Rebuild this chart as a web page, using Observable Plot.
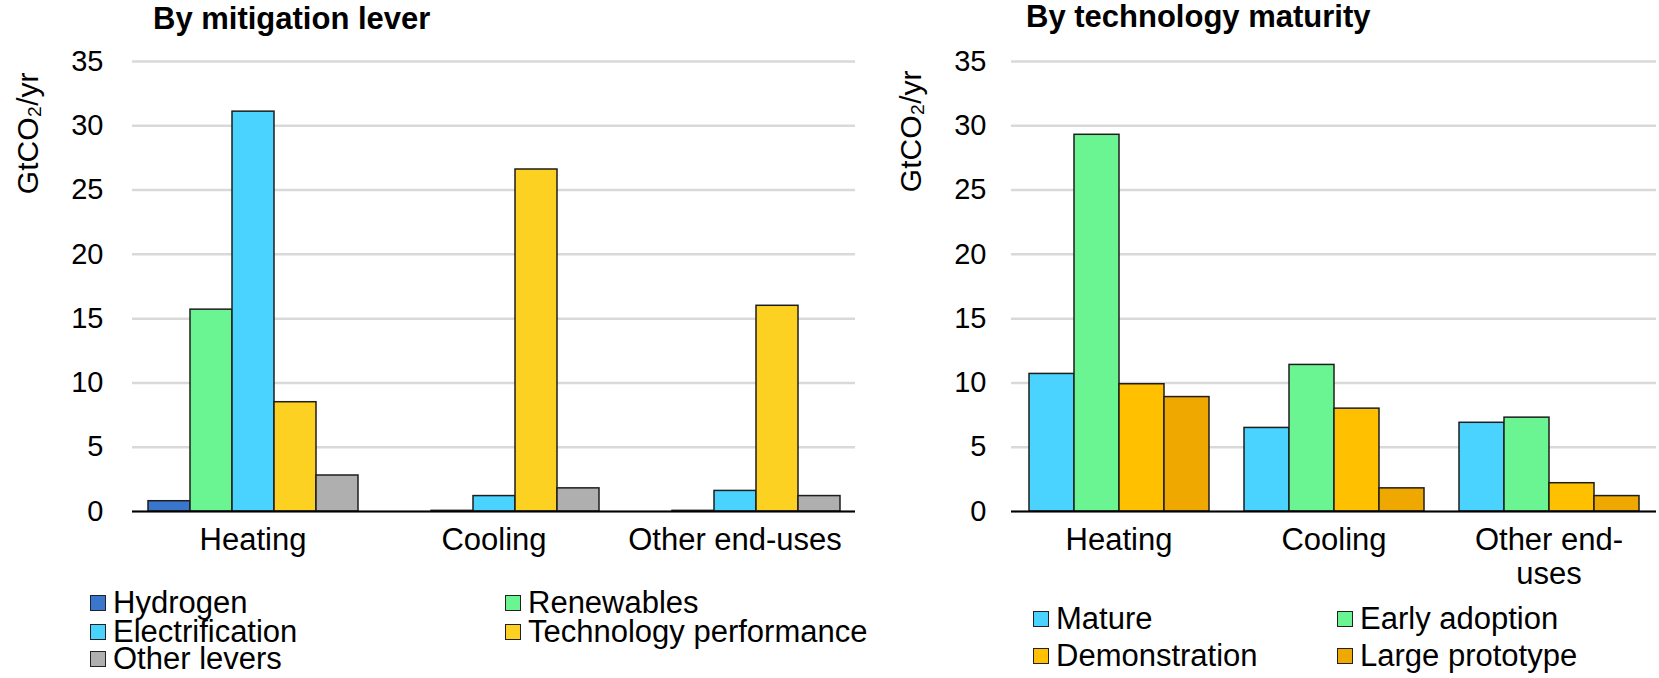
<!DOCTYPE html>
<html><head><meta charset="utf-8">
<script src="https://cdn.jsdelivr.net/npm/d3@7"></script>
<script src="https://cdn.jsdelivr.net/npm/@observablehq/plot@0.6"></script>
<style>
body{margin:0;background:#fff;font-family:"Liberation Sans",Arial,sans-serif;color:#000;}
#root{position:relative;width:1659px;height:678px;overflow:hidden;background:#fff;}
.title{position:absolute;font-weight:bold;font-size:31px;line-height:30px;white-space:nowrap;}
.chart{position:absolute;top:40px;}
.leg{position:absolute;display:flex;align-items:center;height:24px;font-size:31px;line-height:24px;white-space:nowrap;}
.sw{width:16px;height:16px;box-sizing:border-box;border:1.5px solid #222;margin-right:7px;flex:none;}
</style></head><body><div id="root"></div>
<script>
// ---- data ----
const categories = ["Heating", "Cooling", "Other end-uses"];
const leftTickLabels = ["Heating", "Cooling", "Other end-uses"];
const rightTickLabels = ["Heating", "Cooling", "Other end-\nuses"];
const yTicks = [0, 5, 10, 15, 20, 25, 30, 35];
const yLabel = "GtCO₂/yr";

const leverSeries = ["Hydrogen", "Renewables", "Electrification", "Technology performance", "Other levers"];
const leverColors = ["#3A76CC", "#6BF592", "#4AD3FF", "#FDD122", "#AFAFAF"];
const hydrogenValues = [0.8, 0, 0];
const renewablesValues = [15.7, 0.05, 0.05];
const electrificationValues = [31.1, 1.2, 1.6];
const techPerformanceValues = [8.5, 26.6, 16.0];
const otherLeversValues = [2.8, 1.8, 1.2];

const maturitySeries = ["Mature", "Early adoption", "Demonstration", "Large prototype"];
const maturityColors = ["#4AD3FF", "#6BF592", "#FFC000", "#EFA800"];
const matureValues = [10.7, 6.5, 6.9];
const earlyAdoptionValues = [29.3, 11.4, 7.3];
const demonstrationValues = [9.9, 8.0, 2.2];
const largePrototypeValues = [8.9, 1.8, 1.2];

const FONT = '"Liberation Sans", Arial, sans-serif';

function toRows(series, valueArrays) {
  const rows = [];
  categories.forEach((c, ci) => series.forEach((s, si) => rows.push({category: c, series: s, value: valueArrays[si][ci]})));
  return rows;
}

const leverRows = toRows(leverSeries, [hydrogenValues, renewablesValues, electrificationValues, techPerformanceValues, otherLeversValues]);
const maturityRows = toRows(maturitySeries, [matureValues, earlyAdoptionValues, demonstrationValues, largePrototypeValues]);

function chart({data, series, colors, width, marginLeft, marginRight, padOuter, tickLabels, labelDx, labelDy, tickPadding}) {
  return Plot.plot({
    width, height: 560, marginTop: 21, marginBottom: 89, marginLeft, marginRight,
    style: {fontFamily: FONT, fontSize: "29px", color: "#000", background: "transparent", overflow: "visible"},
    fx: {domain: categories, paddingInner: 0, paddingOuter: 0, axis: null},
    x: {domain: series, paddingInner: 0, paddingOuter: padOuter, axis: null},
    y: {domain: [0, 35], axis: null},
    color: {domain: series, range: colors},
    marks: [
      Plot.gridY(yTicks, {stroke: "#d9d9d9", strokeOpacity: 1, strokeWidth: 2.5}),
      Plot.barY(data, {fx: "category", x: "series", y: "value", fill: "series", stroke: "#1e1e1e", strokeWidth: 1.5}),
      Plot.ruleY([0], {stroke: "#000", strokeWidth: 2}),
      Plot.axisY(yTicks, {tickSize: 0, tickPadding, fontSize: 29, fill: "#000", label: null}),
      Plot.text([yLabel], {fx: () => categories[0], text: d => d, frameAnchor: "top-left", rotate: -90,
        textAnchor: "end", lineAnchor: "top", dx: labelDx, dy: labelDy, fontSize: 30, fill: "#000"}),
      Plot.axisFx({anchor: "bottom", tickSize: 0, tickPadding: 14, fontSize: 31, lineHeight: 1.1, fill: "#000", label: null,
        tickFormat: d => tickLabels[categories.indexOf(d)]})
    ]
  });
}

const root = document.getElementById("root");

function addTitle(text, left, top) {
  const d = document.createElement("div");
  d.className = "title"; d.textContent = text;
  d.style.left = left + "px"; d.style.top = top + "px";
  root.appendChild(d);
}
function addChart(svg, left) {
  const w = document.createElement("div");
  w.className = "chart"; w.style.left = left + "px";
  w.appendChild(svg); root.appendChild(w);
}
function addLegend(items, colors, cols, rowCenters) {
  items.forEach((name, i) => {
    const col = i % 2, row = Math.floor(i / 2);
    const d = document.createElement("div");
    d.className = "leg";
    d.style.left = cols[col] + "px"; d.style.top = (rowCenters[row] - 12) + "px";
    const sw = document.createElement("span");
    sw.className = "sw"; sw.style.background = colors[i];
    const t = document.createElement("span"); t.textContent = name;
    d.appendChild(sw); d.appendChild(t);
    root.appendChild(d);
  });
}

addChart(chart({data: leverRows, series: leverSeries, colors: leverColors, width: 870, marginLeft: 131, marginRight: 15,
  padOuter: 0.355, tickLabels: leftTickLabels, labelDx: -116, labelDy: 11, tickPadding: 29}), 0);
addChart(chart({data: maturityRows, series: maturitySeries, colors: maturityColors, width: 829, marginLeft: 181, marginRight: 3,
  padOuter: 0.363, tickLabels: rightTickLabels, labelDx: -112, labelDy: 9, tickPadding: 25}), 830);

addTitle("By mitigation lever", 153, 4);
addTitle("By technology maturity", 1026, 2);

addLegend(leverSeries, leverColors, [90, 505], [603, 632, 659]);
addLegend(maturitySeries, maturityColors, [1033, 1337], [619, 656]);
</script>
</body></html>
